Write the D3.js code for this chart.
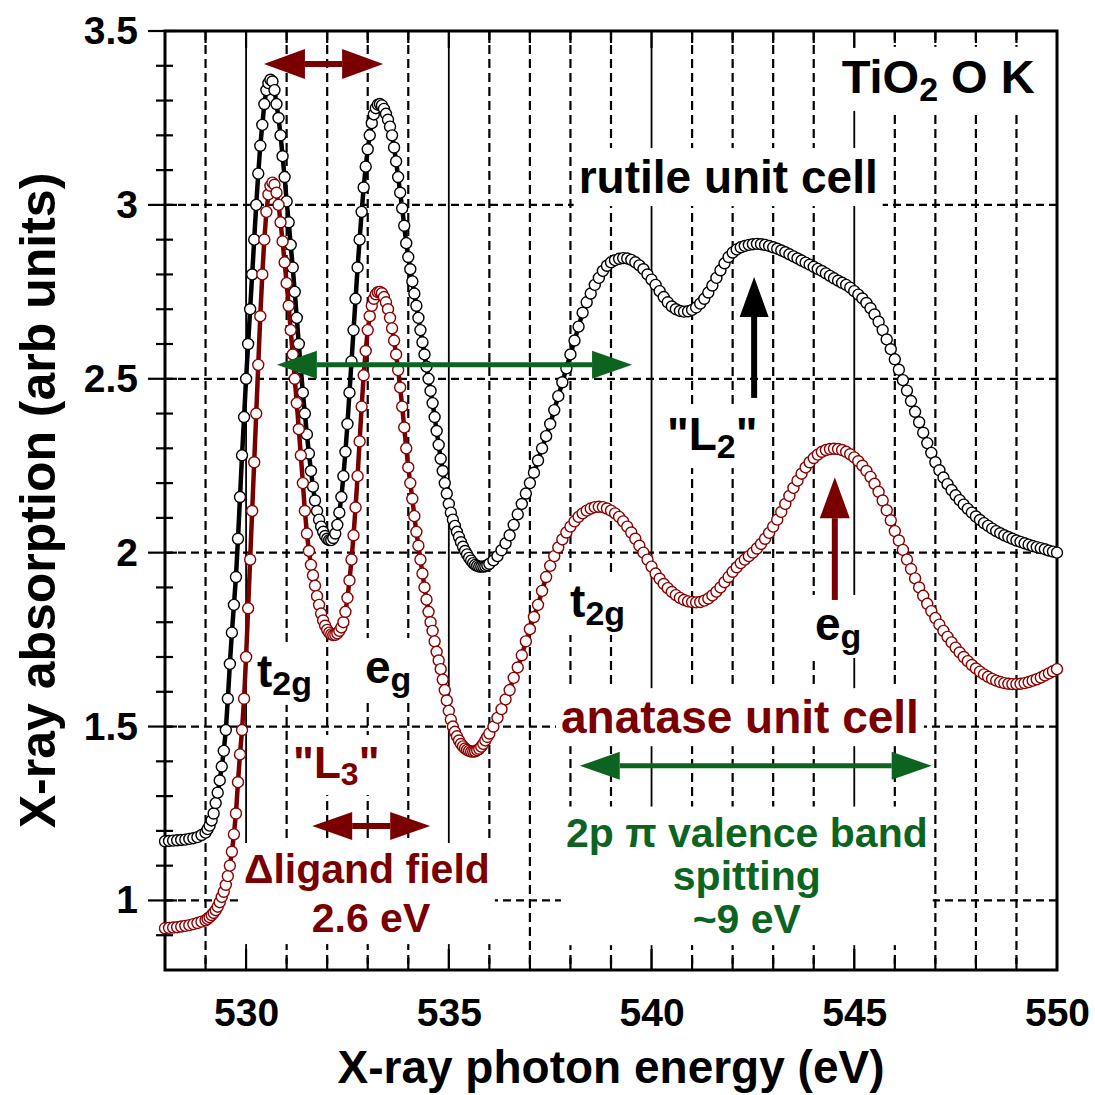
<!DOCTYPE html>
<html>
<head>
<meta charset="utf-8">
<script src="https://cdn.jsdelivr.net/npm/d3@7"></script>
<style>
  body { margin: 0; background: #fff; }
  svg { display: block; font-family: "Liberation Sans", Arial, Helvetica, sans-serif; font-weight: bold; }
  text, tspan { white-space: pre; }
</style>
</head>
<body>
<svg id="chart" width="1095" height="1095"></svg>
<script>
// sample energies (eV) - finer steps across the edge region
const energy = [
  528.0,528.1,528.2,528.3,528.4,528.5,528.6,528.7,528.8,528.9,
  529.0,529.05,529.1,529.15,529.2,529.25,529.3,529.35,529.4,529.45,529.5,529.55,529.6,529.65,529.7,529.75,529.8,529.85,529.9,529.95,
  530.0,530.05,530.1,530.15,530.2,530.25,530.3,530.35,530.4,530.45,530.5,530.55,530.6,530.65,530.7,530.75,530.8,530.85,530.9,530.95,
  531.0,531.05,531.1,531.15,531.2,531.25,531.3,531.35,531.4,531.45,531.5,531.55,531.6,531.65,531.7,531.75,531.8,531.85,531.9,531.95,
  532.0,532.05,532.1,532.15,532.2,532.25,532.3,532.35,532.4,532.45,532.5,532.55,532.6,532.65,532.7,532.75,532.8,532.85,532.9,532.95,
  533.0,533.05,533.1,533.15,533.2,533.25,533.3,533.35,533.4,533.45,533.5,533.55,533.6,533.65,533.7,533.75,533.8,533.85,533.9,533.95,
  534.0,534.05,534.1,534.15,534.2,534.25,534.3,534.35,534.4,534.45,534.5,534.55,534.6,534.65,534.7,534.75,534.8,534.85,534.9,534.95,
  535.0,535.05,535.1,535.15,535.2,535.25,535.3,535.35,535.4,535.45,535.5,535.55,535.6,535.65,535.7,535.75,535.8,535.85,535.9,535.95,
  536.0,536.1,536.2,536.3,536.4,536.5,536.6,536.7,536.8,536.9,
  537.0,537.1,537.2,537.3,537.4,537.5,537.6,537.7,537.8,537.9,
  538.0,538.1,538.2,538.3,538.4,538.5,538.6,538.7,538.8,538.9,
  539.0,539.1,539.2,539.3,539.4,539.5,539.6,539.7,539.8,539.9,
  540.0,540.1,540.2,540.3,540.4,540.5,540.6,540.7,540.8,540.9,
  541.0,541.1,541.2,541.3,541.4,541.5,541.6,541.7,541.8,541.9,
  542.0,542.1,542.2,542.3,542.4,542.5,542.6,542.7,542.8,542.9,
  543.0,543.1,543.2,543.3,543.4,543.5,543.6,543.7,543.8,543.9,
  544.0,544.1,544.2,544.3,544.4,544.5,544.6,544.7,544.8,544.9,
  545.0,545.1,545.2,545.3,545.4,545.5,545.6,545.7,545.8,545.9,
  546.0,546.1,546.2,546.3,546.4,546.5,546.6,546.7,546.8,546.9,
  547.0,547.1,547.2,547.3,547.4,547.5,547.6,547.7,547.8,547.9,
  548.0,548.1,548.2,548.3,548.4,548.5,548.6,548.7,548.8,548.9,
  549.0,549.1,549.2,549.3,549.4,549.5,549.6,549.7,549.8,549.9,
  550.0
];

// rutile unit cell (black)
const rutile = [
  1.17,1.171,1.172,1.173,1.174,1.175,1.177,1.179,1.182,1.188,
  1.195,1.205,1.215,1.23,1.25,1.28,1.31,1.345,1.385,1.43,1.49,1.58,1.68,1.77,1.85,1.93,2.04,2.16,2.28,2.39,
  2.50,2.60,2.70,2.80,2.90,3.00,3.09,3.17,3.23,3.29,3.33,3.35,3.36,3.355,3.33,3.29,3.25,3.20,3.14,3.08,
  3.01,2.95,2.885,2.82,2.75,2.675,2.60,2.53,2.46,2.40,2.34,2.285,2.235,2.19,2.15,2.12,2.095,2.075,2.06,2.048,
  2.04,2.036,2.036,2.042,2.055,2.08,2.115,2.16,2.22,2.29,2.37,2.46,2.55,2.64,2.73,2.82,2.90,2.98,3.05,3.11,
  3.16,3.20,3.235,3.26,3.278,3.288,3.29,3.286,3.276,3.262,3.245,3.225,3.20,3.165,3.125,3.08,3.035,2.99,2.94,2.89,
  2.85,2.815,2.78,2.745,2.71,2.675,2.64,2.605,2.57,2.535,2.50,2.465,2.43,2.39,2.35,2.31,2.27,2.235,2.20,2.17,
  2.14,2.115,2.095,2.077,2.06,2.045,2.03,2.017,2.005,1.995,1.985,1.977,1.97,1.965,1.962,1.96,1.96,1.96,1.961,1.964,
  1.968,1.978,1.99,2.007,2.027,2.05,2.08,2.11,2.14,2.17,
  2.20,2.23,2.265,2.30,2.335,2.37,2.41,2.45,2.49,2.53,
  2.57,2.61,2.65,2.69,2.72,2.745,2.77,2.79,2.81,2.825,
  2.835,2.841,2.845,2.847,2.846,2.842,2.835,2.826,2.815,2.80,
  2.785,2.77,2.752,2.735,2.72,2.708,2.70,2.695,2.693,2.694,
  2.698,2.705,2.716,2.73,2.748,2.768,2.79,2.812,2.832,2.85,
  2.863,2.872,2.878,2.882,2.885,2.887,2.888,2.887,2.885,2.882,
  2.878,2.874,2.869,2.864,2.858,2.852,2.846,2.84,2.834,2.828,
  2.822,2.816,2.81,2.803,2.796,2.789,2.782,2.776,2.77,2.762,
  2.752,2.742,2.731,2.718,2.703,2.685,2.664,2.64,2.613,2.585,
  2.556,2.526,2.496,2.466,2.436,2.405,2.375,2.345,2.315,2.287,
  2.26,2.237,2.216,2.197,2.18,2.165,2.151,2.138,2.126,2.115,
  2.104,2.094,2.085,2.077,2.069,2.062,2.056,2.05,2.045,2.04,
  2.035,2.031,2.027,2.023,2.019,2.016,2.013,2.01,2.006,2.003,
  2.0
];

// anatase unit cell (dark red)
const anatase = [
  0.92,0.921,0.922,0.923,0.925,0.927,0.929,0.932,0.935,0.939,
  0.943,0.947,0.952,0.958,0.964,0.972,0.982,0.995,1.01,1.025,1.045,1.07,1.10,1.14,1.19,1.25,1.34,1.42,1.49,1.58,
  1.70,1.84,1.98,2.12,2.26,2.40,2.54,2.68,2.80,2.90,2.98,3.03,3.055,3.064,3.058,3.035,3.0,2.95,2.895,2.835,
  2.775,2.71,2.64,2.57,2.50,2.43,2.355,2.28,2.20,2.12,2.055,2.005,1.965,1.935,1.905,1.875,1.85,1.825,1.805,1.79,
  1.778,1.77,1.765,1.763,1.764,1.768,1.775,1.785,1.80,1.83,1.87,1.92,1.98,2.05,2.13,2.22,2.32,2.42,2.51,2.58,
  2.64,2.68,2.71,2.73,2.743,2.749,2.75,2.746,2.735,2.72,2.70,2.675,2.645,2.61,2.57,2.525,2.475,2.42,2.36,2.30,
  2.245,2.20,2.155,2.105,2.06,2.02,1.98,1.94,1.90,1.865,1.83,1.80,1.775,1.745,1.715,1.69,1.665,1.635,1.605,1.575,
  1.545,1.52,1.50,1.485,1.472,1.46,1.45,1.443,1.437,1.433,1.43,1.428,1.428,1.429,1.432,1.436,1.442,1.45,1.46,1.47,
  1.48,1.50,1.525,1.55,1.578,1.605,1.64,1.67,1.705,1.745,
  1.78,1.815,1.85,1.89,1.93,1.962,1.99,2.015,2.038,2.058,
  2.075,2.09,2.103,2.113,2.121,2.127,2.131,2.132,2.131,2.127,
  2.121,2.113,2.103,2.09,2.075,2.058,2.04,2.02,2.0,1.98,
  1.96,1.94,1.925,1.91,1.898,1.887,1.878,1.87,1.864,1.86,
  1.858,1.857,1.858,1.862,1.868,1.877,1.888,1.90,1.915,1.93,
  1.945,1.958,1.97,1.98,1.99,2.0,2.012,2.025,2.04,2.057,
  2.075,2.095,2.117,2.14,2.163,2.186,2.207,2.227,2.245,2.26,
  2.272,2.282,2.29,2.295,2.298,2.299,2.298,2.295,2.29,2.283,
  2.274,2.263,2.25,2.235,2.218,2.198,2.175,2.15,2.122,2.093,
  2.062,2.035,2.008,1.98,1.953,1.926,1.90,1.876,1.853,1.832,
  1.812,1.793,1.775,1.758,1.742,1.727,1.713,1.70,1.688,1.677,
  1.667,1.658,1.65,1.643,1.637,1.632,1.628,1.625,1.623,1.622,
  1.622,1.623,1.625,1.628,1.632,1.636,1.641,1.647,1.653,1.659,
  1.665
];

const xTicks = [530, 535, 540, 545, 550];
const yTicks = [1, 1.5, 2, 2.5, 3, 3.5];

const BLACK = "#000";
const DARKRED = "#7a0000";
const GREEN = "#0d6420";

const svg = d3.select("#chart");
const x = d3.scaleLinear().domain([528, 550]).range([165, 1057]);
const y = d3.scaleLinear().domain([0.8, 3.5]).range([970, 31]);

svg.append("rect").attr("width", 1095).attr("height", 1095).attr("fill", "#fff");

// layers, bottom to top
const gridG = svg.append("g");
const boxG = svg.append("g");
const axisG = svg.append("g");
const dataG = svg.append("g");
const textG = svg.append("g");
const arrowG = svg.append("g");

// grid
const vGrid = x.ticks(22).filter(d => d > 528 && d < 550);
gridG.selectAll("line.v").data(vGrid).join("line")
  .attr("x1", d => x(d)).attr("x2", d => x(d))
  .attr("y1", y(3.5)).attr("y2", y(0.8))
  .attr("stroke", "#000")
  .attr("stroke-width", d => d % 5 === 0 ? 1.8 : 2.2)
  .attr("stroke-dasharray", d => d % 5 === 0 ? null : "9,5");
gridG.selectAll("line.h").data(yTicks.filter(d => d < 3.5)).join("line")
  .attr("x1", x(528)).attr("x2", x(550))
  .attr("y1", d => y(d)).attr("y2", d => y(d))
  .attr("stroke", "#000").attr("stroke-width", 2.2)
  .attr("stroke-dasharray", "8,5");

// axes: labels through d3 axes, ticks crossing the frame drawn here
const isMajorY = d => Math.abs(d * 2 - Math.round(d * 2)) < 1e-6;
axisG.selectAll("line.yt").data(y.ticks(27).filter(d => d > 0.85)).join("line")
  .attr("x1", d => x(528) - (isMajorY(d) ? 17 : 9))
  .attr("x2", d => x(528) + (isMajorY(d) ? 12 : 8))
  .attr("y1", d => y(d)).attr("y2", d => y(d))
  .attr("stroke", "#000").attr("stroke-width", 2.2);
axisG.selectAll("line.xb").data(vGrid).join("line")
  .attr("x1", d => x(d)).attr("x2", d => x(d))
  .attr("y1", y(0.8)).attr("y2", d => y(0.8) - (d % 5 === 0 ? 21 : 12))
  .attr("stroke", "#000").attr("stroke-width", 2.2);
axisG.selectAll("line.xt").data(vGrid).join("line")
  .attr("x1", d => x(d)).attr("x2", d => x(d))
  .attr("y1", y(3.5)).attr("y2", d => y(3.5) + (d % 5 === 0 ? 17 : 12))
  .attr("stroke", "#000").attr("stroke-width", 2.2);
axisG.append("rect")
  .attr("x", x(528)).attr("y", y(3.5))
  .attr("width", x(550) - x(528)).attr("height", y(0.8) - y(3.5))
  .attr("fill", "none").attr("stroke", "#000").attr("stroke-width", 3);

const xAxis = axisG.append("g")
  .attr("transform", "translate(0," + y(0.8) + ")")
  .call(d3.axisBottom(x).tickValues(xTicks).tickSize(0).tickPadding(28).tickFormat(d => String(d)));
const yAxis = axisG.append("g")
  .attr("transform", "translate(" + x(528) + ",0)")
  .call(d3.axisLeft(y).tickValues(yTicks).tickSize(0).tickPadding(27).tickFormat(d => String(d)));
[xAxis, yAxis].forEach(a => {
  a.select(".domain").remove();
  a.selectAll("text").attr("font-size", 39).attr("font-weight", "bold")
    .attr("font-family", "Liberation Sans, Arial, sans-serif").attr("fill", "#000");
});

svg.append("text")
  .attr("x", (x(528) + x(550)) / 2).attr("y", 1083)
  .attr("text-anchor", "middle").attr("font-size", 46)
  .text("X-ray photon energy (eV)");
svg.append("text")
  .attr("transform", "translate(55," + (y(0.8) + y(3.5)) / 2 + ") rotate(-90)")
  .attr("text-anchor", "middle").attr("font-size", 50)
  .text("X-ray absorption (arb units)");

// spectra
const line = d3.line().x(d => x(d[0])).y(d => y(d[1]));
const series = [
  { values: rutile, stroke: "#000", lineColor: "#000" },
  { values: anatase, stroke: "#8a0000", lineColor: "#7a0000" }
];
series.forEach(s => {
  const pts = d3.zip(energy, s.values);
  dataG.append("path").datum(pts)
    .attr("d", line).attr("fill", "none")
    .attr("stroke", s.lineColor).attr("stroke-width", 4.5);
  dataG.append("g").selectAll("circle").data(pts).join("circle")
    .attr("cx", d => x(d[0])).attr("cy", d => y(d[1])).attr("r", 5.5)
    .attr("fill", "#fff").attr("stroke", s.stroke).attr("stroke-width", 1.4);
});

// annotation text blocks (positions in data units)
const blocks = [
  { color: BLACK, anchor: "end", size: 47, lines: [{ e: 549.45, v: 3.322, parts: [["TiO"], ["2", "sub"], [" O K"]] }] },
  { color: BLACK, anchor: "middle", size: 46, lines: [{ e: 541.89, v: 3.034, parts: [["rutile unit cell"]] }] },
  { color: DARKRED, anchor: "middle", size: 46, lines: [{ e: 542.18, v: 1.481, parts: [["anatase unit cell"]] }] },
  { color: BLACK, anchor: "start", size: 46, lines: [{ e: 530.27, v: 1.614, parts: [["t"], ["2g", "sub"]] }] },
  { color: BLACK, anchor: "start", size: 46, lines: [{ e: 532.93, v: 1.625, parts: [["e"], ["g", "sub"]] }] },
  { color: DARKRED, anchor: "start", size: 44, lines: [{ e: 531.16, v: 1.352, parts: [["\"L"], ["3", "sub"], ["\""]] }] },
  { color: BLACK, anchor: "start", size: 46, lines: [{ e: 537.99, v: 1.815, parts: [["t"], ["2g", "sub"]] }] },
  { color: BLACK, anchor: "start", size: 46, lines: [{ e: 544.03, v: 1.749, parts: [["e"], ["g", "sub"]] }] },
  { color: BLACK, anchor: "start", size: 46, lines: [{ e: 540.38, v: 2.295, parts: [["\"L"], ["2", "sub"], ["\""]] }] },
  { color: DARKRED, anchor: "middle", size: 41, lines: [
      { e: 532.98, v: 1.05, parts: [["\u0394ligand field"]] },
      { e: 533.08, v: 0.909, parts: [["2.6 eV"]] }] },
  { color: GREEN, anchor: "middle", size: 41, lines: [
      { e: 542.35, v: 1.155, parts: [["2p \u03c0 valence band"]] },
      { e: 542.35, v: 1.03, parts: [["spitting"]] },
      { e: 542.35, v: 0.906, parts: [["~9 eV"]] }] }
];
blocks.forEach(b => {
  const g = textG.append("g").attr("fill", b.color);
  b.lines.forEach(l => {
    const t = g.append("text")
      .attr("x", x(l.e)).attr("y", y(l.v))
      .attr("text-anchor", b.anchor).attr("font-size", b.size);
    let shift = 0;
    l.parts.forEach(p => {
      const sub = p[1] === "sub";
      const target = sub ? Math.round(b.size * 0.17) : 0;
      const ts = t.append("tspan").text(p[0]).attr("dy", target - shift);
      if (sub) ts.attr("font-size", Math.round(b.size * 0.73));
      shift = target;
    });
  });
  const bb = g.node().getBBox();
  boxG.append("rect")
    .attr("x", bb.x - 5).attr("y", bb.y - 3)
    .attr("width", bb.width + 10).attr("height", bb.height + 6)
    .attr("fill", "#fff");
});

// arrows (tail/head in data units)
const arrows = [
  { from: [530.44, 3.405], to: [533.38, 3.405], double: true, color: DARKRED, head: 41, width: 30, shaft: 6 },
  { from: [530.76, 2.54], to: [539.52, 2.54], double: true, color: GREEN, head: 40, width: 28, shaft: 5 },
  { from: [542.53, 2.445], to: [542.53, 2.793], double: false, color: BLACK, head: 40, width: 29, shaft: 6 },
  { from: [544.52, 1.864], to: [544.52, 2.217], double: false, color: DARKRED, head: 41, width: 30, shaft: 6 },
  { from: [531.63, 1.214], to: [534.54, 1.214], double: true, color: DARKRED, head: 40, width: 28, shaft: 6 },
  { from: [538.23, 1.387], to: [546.91, 1.387], double: true, color: GREEN, head: 40, width: 28, shaft: 5 }
];
arrows.forEach(a => {
  const p1 = [x(a.from[0]), y(a.from[1])], p2 = [x(a.to[0]), y(a.to[1])];
  const dx = p2[0] - p1[0], dy = p2[1] - p1[1], len = Math.hypot(dx, dy);
  const ux = dx / len, uy = dy / len, nx = -uy, ny = ux, w = a.width / 2;
  const s = a.double ? [p1[0] + ux * a.head, p1[1] + uy * a.head] : p1;
  const e = [p2[0] - ux * a.head, p2[1] - uy * a.head];
  arrowG.append("line")
    .attr("x1", s[0]).attr("y1", s[1]).attr("x2", e[0]).attr("y2", e[1])
    .attr("stroke", a.color).attr("stroke-width", a.shaft);
  const head = (tip, base) => [tip, [base[0] + nx * w, base[1] + ny * w], [base[0] - nx * w, base[1] - ny * w]];
  arrowG.append("polygon").attr("points", head(p2, e).join(" ")).attr("fill", a.color);
  if (a.double) arrowG.append("polygon").attr("points", head(p1, s).join(" ")).attr("fill", a.color);
});
</script>
</body>
</html>
